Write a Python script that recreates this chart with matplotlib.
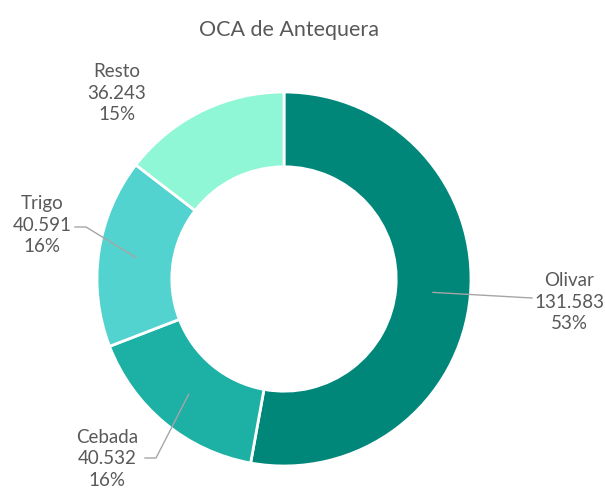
import numpy as np
import matplotlib.pyplot as plt

# Superficie por cultivo
cultivos = ['Olivar', 'Cebada', 'Trigo', 'Resto']
valores = [131583, 40532, 40591, 36243]
colores = ['#00877a', '#1db0a5', '#52d3cf', '#8ff7d6']

# Posición de cada etiqueta (píxeles de la imagen) y del codo de su guía
pos_etiquetas = {'Olivar': (569, 302), 'Cebada': (107, 459),
                 'Trigo': (42, 225), 'Resto': (117, 93)}
codos = {'Olivar': (532, 298), 'Cebada': (156, 458), 'Trigo': (86, 227)}

W, H = 605, 491
fig = plt.figure(figsize=(W / 100, H / 100), dpi=100)
ax = fig.add_axes([0, 0, 1, 1])

cx, cy, R = 284, H - 279, 187
wedges, _ = ax.pie(valores, colors=colores, startangle=90, counterclock=False,
                   center=(cx, cy), radius=R,
                   wedgeprops=dict(width=R * 0.4, edgecolor='white', linewidth=2))
ax.set_xlim(0, W)
ax.set_ylim(0, H)
ax.set_aspect('equal')
ax.axis('off')

total = sum(valores)
fuente = 'Lato'
gris = '#595959'
for w, nombre, v in zip(wedges, cultivos, valores):
    tx, ty = pos_etiquetas[nombre]
    texto = f"{nombre}\n{v:,}".replace(',', '.') + f"\n{round(100 * v / total)}%"
    ax.text(tx, H - ty, texto, ha='center', va='center', color=gris,
            fontsize=13.5, family=fuente, linespacing=1.3)
    if nombre in codos:
        # guía desde el centro del sector hasta el texto
        ang = np.deg2rad((w.theta1 + w.theta2) / 2)
        x0, y0 = cx + 0.8 * R * np.cos(ang), cy + 0.8 * R * np.sin(ang)
        ex, ey = codos[nombre]
        if nombre == 'Olivar':
            xs, ys = [x0, ex], [y0, H - ey]
        else:
            xs, ys = [x0, ex, ex - 11], [y0, H - ey, H - ey]
        ax.plot(xs, ys, color='#a6a6a6', linewidth=1)

fig.text(289 / W, 1 - 30 / H, 'OCA de Antequera', ha='center', va='center',
         color=gris, fontsize=15.5, family=fuente)

fig.savefig('out.png', dpi=100, facecolor='white')
